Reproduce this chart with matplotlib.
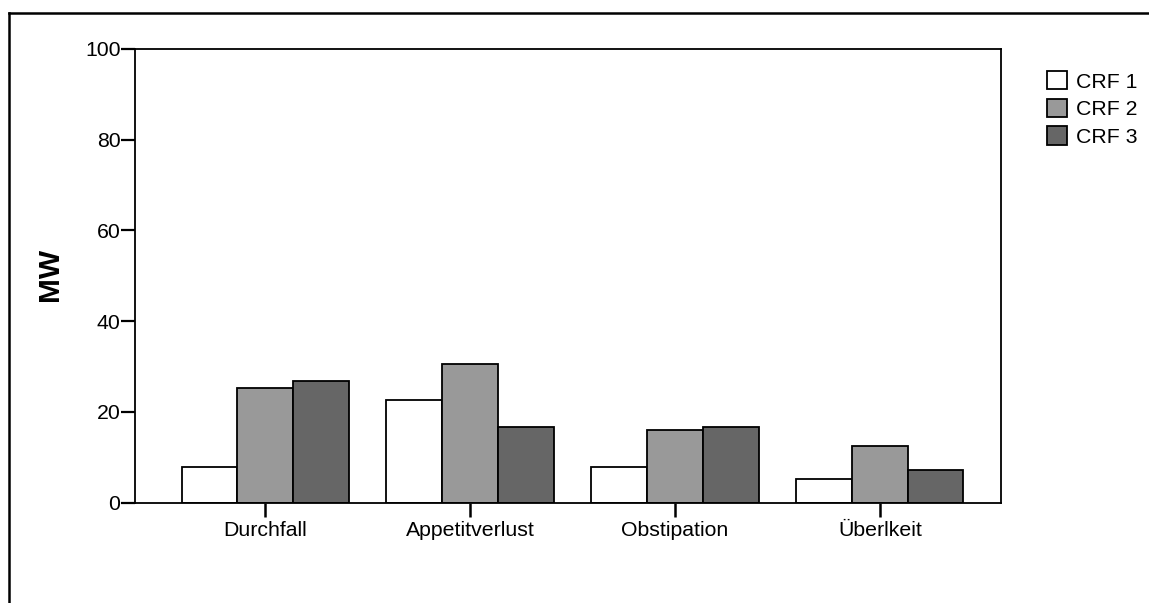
import matplotlib
matplotlib.use("Agg")
import matplotlib.pyplot as plt
import numpy as np
from matplotlib.lines import Line2D

categories = ["Durchfall", "Appetitverlust", "Obstipation", "Überlkeit"]
crf1 = [7.9, 22.6, 7.9, 5.3]
crf2 = [25.2, 30.6, 16.0, 12.6]
crf3 = [26.9, 16.6, 16.7, 7.3]
series_names = ["CRF 1", "CRF 2", "CRF 3"]
colors = ["#ffffff", "#999999", "#666666"]
yticks = [0, 20, 40, 60, 80, 100]

plt.rcParams['font.family'] = ['Liberation Sans', 'DejaVu Sans']

W, H = 1149, 603
fig = plt.figure(figsize=(W / 100, H / 100), dpi=100)
ax = fig.add_axes([135 / W, 1 - 502.7 / H, (1001 - 135) / W, (502.7 - 49) / H])

x = np.arange(len(categories))
bw = 0.272
for i, (vals, name, c) in enumerate(zip([crf1, crf2, crf3], series_names, colors)):
    ax.bar(x + (i - 1) * bw, vals, width=bw, color=c, edgecolor="black",
           linewidth=1.3, label=name, zorder=2)

ax.set_xlim(-0.635, 3.591)
ax.set_ylim(0, 100)
ax.set_yticks(yticks)
ax.set_xticks(x)
ax.set_xticklabels(categories)
ax.tick_params(axis="y", direction="out", length=10, width=1.6, labelsize=15.3, pad=0.5, colors="black")
ax.tick_params(axis="x", direction="out", length=10, width=1.8, labelsize=15.3, pad=3, colors="black")
for s in ax.spines.values():
    s.set_linewidth(1.3)
    s.set_color("black")

fig.text(50 / W, 1 - 274 / H, "MW", fontsize=21.5, fontweight="bold", rotation=90,
         ha="center", va="center")

leg = ax.legend(loc="upper left", bbox_to_anchor=(1047 / W, 1 - 71 / H),
                bbox_transform=fig.transFigure, frameon=False, fontsize=15.3,
                handlelength=0.96, handleheight=0.96, handletextpad=0.4,
                labelspacing=0.33, borderpad=0, borderaxespad=0)

# outer frame lines (top and left)
fig.add_artist(Line2D([9 / W, 1.0], [1 - 13 / H, 1 - 13 / H], transform=fig.transFigure,
                      color="black", linewidth=1.8))
fig.add_artist(Line2D([9 / W, 9 / W], [0.0, 1 - 13 / H], transform=fig.transFigure,
                      color="black", linewidth=1.8))

fig.savefig("out.png", dpi=100, facecolor="white")
